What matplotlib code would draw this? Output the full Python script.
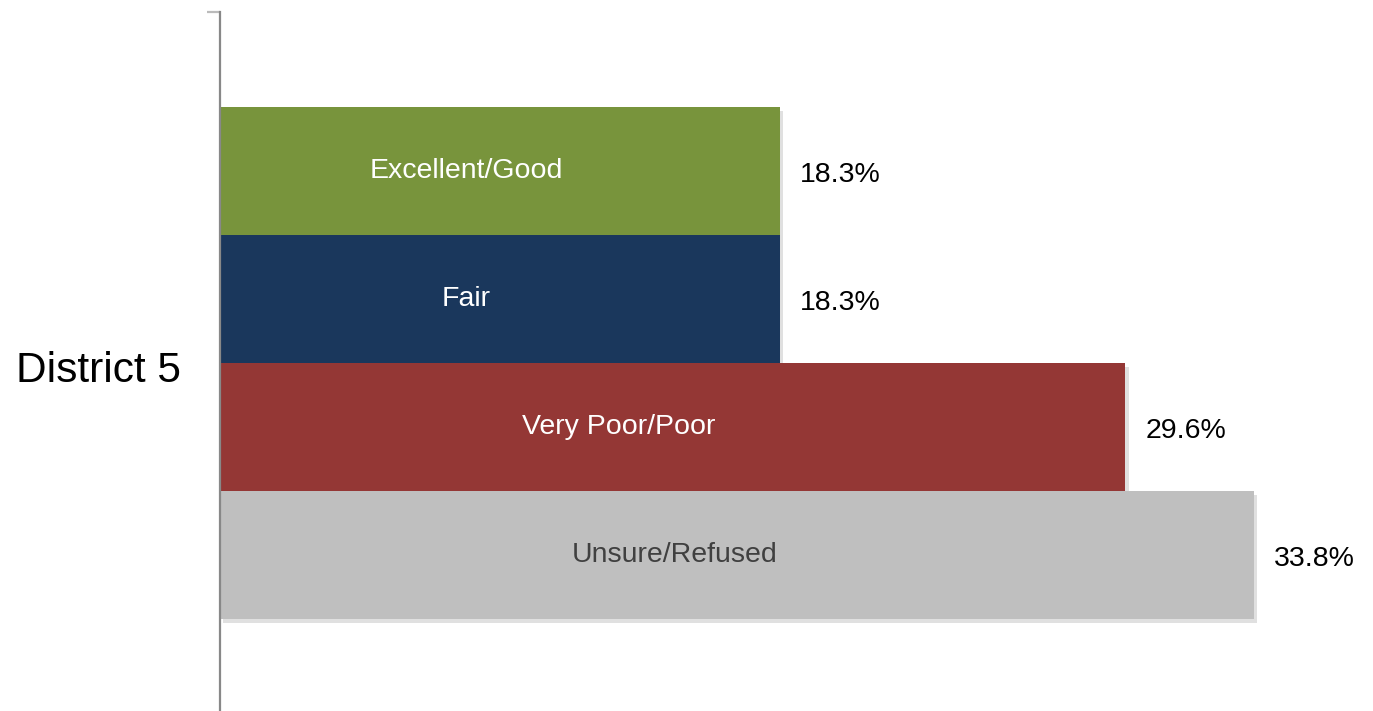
import matplotlib
matplotlib.use("Agg")
import matplotlib.pyplot as plt
import matplotlib.patheffects as pe

plt.rcParams['font.family'] = ['Liberation Sans', 'DejaVu Sans']

category = 'District 5'
series = ['Excellent/Good', 'Fair', 'Very Poor/Poor', 'Unsure/Refused']
values = [18.3, 18.3, 29.6, 33.8]
colors = ['#78943c', '#1a375c', '#943735', '#bfbfbf']
text_colors = ['white', 'white', 'white', '#404040']

fig = plt.figure(figsize=(13.73, 7.11), dpi=100)
ax = fig.add_axes([220 / 1373, 0.0, 1 - 220 / 1373, 1 - 12 / 711])

bar_h = 0.2
offsets = [0.3, 0.1, -0.1, -0.3]
shadow = [pe.SimplePatchShadow(offset=(2.5, -2.5), shadow_rgbFace='black', alpha=0.12), pe.Normal()]

for name, v, c, tc, off in zip(series, values, colors, text_colors, offsets):
    bar = ax.barh(off, v, height=bar_h, color=c, edgecolor='none')
    bar[0].set_path_effects(shadow)
    ax.text(v * 0.44, off, name, ha='center', va='center', color=tc, fontsize=20.5)
    ax.text(v + 0.65, off - 0.005, f'{v:.1f}%', ha='left', va='center', color='black', fontsize=20.5)

ax.set_xlim(0, 37.7)
ax.set_ylim(-0.543, 0.549)

for s in ['top', 'right', 'bottom']:
    ax.spines[s].set_visible(False)
ax.spines['left'].set_color('#888888')
ax.spines['left'].set_linewidth(1.6)
ax.set_xticks([])

ax.set_yticks([0.549])
ax.set_yticklabels([''])
ax.tick_params(axis='y', which='major', length=9.5, width=1.6, color='#bbbbbb', direction='out')
ax.set_yticks([-0.005], minor=True)
ax.set_yticklabels([category], minor=True, fontsize=30.5)
ax.tick_params(axis='y', which='minor', length=0, pad=28)

fig.savefig('out.png', dpi=100)
